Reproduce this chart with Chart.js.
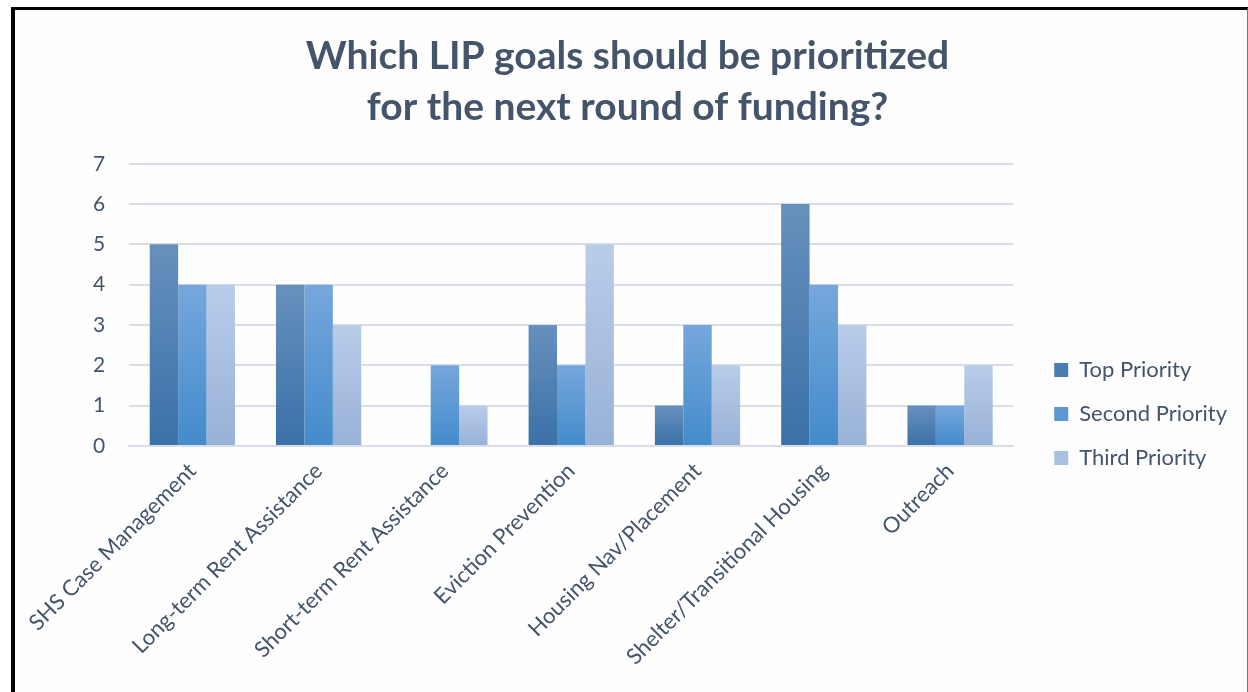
<!DOCTYPE html>
<html lang="en">
<head>
  <meta charset="UTF-8" />
  <title>LIP goals priority</title>
  <style>
    html, body {
      margin: 0;
      padding: 0;
      background: #fff;
    }
    #frame {
      position: absolute;
      left: 11px;
      top: 7px;
      width: 1232px;
      height: 685px;
      border-left: 4px solid #000;
      border-top: 3px solid #000;
      border-right: 1px solid #777;
      background: #fefefe;
    }
    #frame canvas {
      display: block;
    }
  </style>
</head>
<body>

  <div id="frame">
    <canvas id="goalChart" width="1232" height="682"></canvas>
  </div>

  <script src="https://cdn.jsdelivr.net/npm/chart.js"></script>

  <script>
    // categories
    const goals = [
      'SHS Case Management',
      'Long-term Rent Assistance',
      'Short-term Rent Assistance',
      'Eviction Prevention',
      'Housing Nav/Placement',
      'Shelter/Transitional Housing',
      'Outreach'
    ];

    // votes per priority
    const topPriority    = [5, 4, 0, 3, 1, 6, 1];
    const secondPriority = [4, 4, 2, 2, 3, 4, 1];
    const thirdPriority  = [4, 3, 1, 5, 2, 3, 2];

    const yTicks = [0, 1, 2, 3, 4, 5, 6, 7];

    // gradient colours, top -> bottom of each bar
    const shades = {
      top:    ['#6790bd', '#3a71a8'],
      second: ['#76a7dc', '#438bcb'],
      third:  ['#b9cdeb', '#98b1d6']
    };

    const textColor = '#44546a';
    const fontFamily = 'Lato, "Open Sans", sans-serif';

    // each bar gets its own vertical gradient
    const barGradient = (pair) => (ctx) => {
      const chart = ctx.chart;
      if (!chart.chartArea || ctx.type !== 'data') return pair[1];
      const y = chart.scales.y;
      const top = y.getPixelForValue(ctx.raw);
      const bottom = y.getPixelForValue(0);
      if (!(bottom - top > 0)) return pair[1];
      const g = chart.ctx.createLinearGradient(0, top, 0, bottom);
      g.addColorStop(0, pair[0]);
      g.addColorStop(1, pair[1]);
      return g;
    };

    // the legend sits lower and a bit further right than Chart.js puts it
    const legendOffset = {
      id: 'legendOffset',
      afterLayout(chart) {
        const lg = chart.legend;
        if (!lg) return;
        lg.top += 68;
        lg.bottom += 68;
        lg.left += 19;
        lg.right += 19;
      }
    };

    new Chart(document.getElementById('goalChart'), {
      type: 'bar',
      data: {
        labels: goals,
        datasets: [
          { label: 'Top Priority',    data: topPriority,    backgroundColor: barGradient(shades.top),    legendColor: '#4a7db3' },
          { label: 'Second Priority', data: secondPriority, backgroundColor: barGradient(shades.second), legendColor: '#5a97d3' },
          { label: 'Third Priority',  data: thirdPriority,  backgroundColor: barGradient(shades.third),  legendColor: '#a9c0e1' }
        ]
      },
      plugins: [legendOffset],
      options: {
        responsive: false,
        animation: false,
        datasets: {
          bar: { barPercentage: 1, categoryPercentage: 0.675 }
        },
        layout: {
          padding: { left: 22, right: 29, top: 0, bottom: 10 }
        },
        plugins: {
          title: {
            display: true,
            text: ['Which LIP goals should be prioritized', 'for the next round of funding?'],
            color: textColor,
            font: { family: fontFamily, size: 39, weight: 'bold', lineHeight: 1.33 },
            padding: { top: 20, bottom: 30 }
          },
          legend: {
            position: 'right',
            labels: {
              color: textColor,
              font: { family: fontFamily, size: 22 },
              boxWidth: 14,
              boxHeight: 14,
              padding: 22,
              generateLabels: (chart) => chart.data.datasets.map((ds, i) => ({
                text: ds.label,
                fillStyle: ds.legendColor,
                strokeStyle: ds.legendColor,
                lineWidth: 0,
                fontColor: textColor,
                hidden: !chart.isDatasetVisible(i),
                datasetIndex: i
              }))
            }
          },
          tooltip: { enabled: false }
        },
        scales: {
          x: {
            grid: { display: false, drawTicks: false },
            border: { display: true, color: '#d9dee6', width: 2 },
            ticks: {
              color: textColor,
              font: { family: fontFamily, size: 22 },
              maxRotation: 45,
              minRotation: 45,
              padding: 12
            }
          },
          y: {
            min: 0,
            max: 7,
            afterBuildTicks: (axis) => { axis.ticks = yTicks.map(v => ({ value: v })); },
            grid: { color: '#d9dee6', lineWidth: 2, drawTicks: false },
            border: { display: false },
            ticks: {
              color: textColor,
              font: { family: fontFamily, size: 21 },
              padding: 24
            }
          }
        }
      }
    });
  </script>
</body>
</html>
